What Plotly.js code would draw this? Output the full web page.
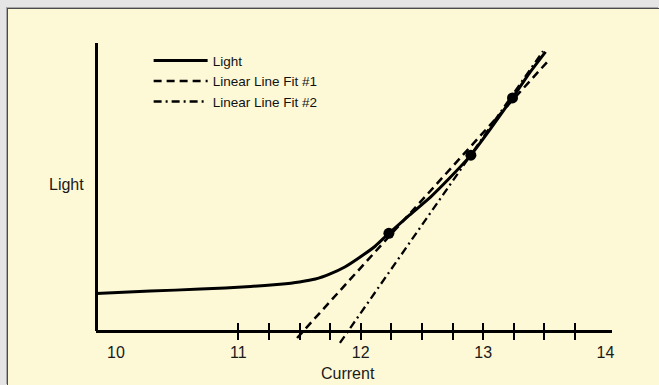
<!DOCTYPE html>
<html><head><meta charset="utf-8">
<script src="https://cdn.plot.ly/plotly-3.0.1.min.js"></script>
<style>
html,body{margin:0;padding:0;background:#e5e5e5;width:659px;height:385px;overflow:hidden;}
#chart{position:absolute;left:7px;top:8px;width:651px;height:376px;border-left:1px solid #4a4a4a;border-top:1px solid #4a4a4a;box-shadow:-1px -1px 0 #a8a8a8;background:#fdf9d7;}
</style></head><body><div id="chart"></div>
<script>
// Light vs Current curve
const currentX = [9.84, 10.28, 10.69, 11.10, 11.34, 11.50, 11.63, 11.75, 11.87, 11.99, 12.12, 12.23, 12.40, 12.57, 12.73, 12.90, 13.06, 13.24, 13.38, 13.51];
const lightY   = [1.29, 1.37, 1.44, 1.53, 1.61, 1.69, 1.79, 1.97, 2.21, 2.54, 2.94, 3.38, 4.02, 4.64, 5.32, 6.10, 7.01, 8.09, 8.96, 9.69];
// measured points
const pointX = [12.23, 12.90, 13.24];
const pointY = [3.38, 6.10, 8.09];
// linear fits
const fit1X = [11.48, 13.53];
const fit1Y = [-0.26, 9.37];
const fit2X = [11.83, 13.49];
const fit2Y = [-0.43, 9.72];
// axis ticks
const tickVals = [10, 11, 12, 13, 14];
const tickText = ['10', '11', '12', '13', '14'];
const quarterTicks = [11, 11.25, 11.5, 11.75, 12, 12.25, 12.5, 12.75, 13, 13.25, 13.5, 13.75];
const names = ['Light', 'Linear Line Fit #1', 'Linear Line Fit #2'];

const xRange = [9.837, 14.053];
const axPos = 0.0635;
const yRange = [-10 * axPos / (1 - axPos), 10];
const font = 'Liberation Sans, Arial, Helvetica, sans-serif';

const traces = [
  {x: currentX, y: lightY, name: names[0], mode: 'lines', line: {color: '#000', width: 3, shape: 'spline', smoothing: 0.5}},
  {x: fit1X, y: fit1Y, name: names[1], mode: 'lines', line: {color: '#000', width: 2.5, dash: '8px,5px'}},
  {x: fit2X, y: fit2Y, name: names[2], mode: 'lines', line: {color: '#000', width: 2.3, dash: '8px,4px,2px,4px'}},
  {x: pointX, y: pointY, mode: 'markers', showlegend: false, marker: {color: '#000', size: 11}},
  {x: [], y: [], xaxis: 'x2', yaxis: 'y', showlegend: false, hoverinfo: 'skip'},
  {x: [], y: [], xaxis: 'x3', yaxis: 'y', showlegend: false, hoverinfo: 'skip'},
  {x: [], y: [], xaxis: 'x', yaxis: 'y2', showlegend: false, hoverinfo: 'skip'}
];

const baseX = {range: xRange, anchor: 'free', position: axPos, showgrid: false, zeroline: false, fixedrange: true};
const layout = {
  width: 651, height: 376,
  margin: {l: 88, r: 47, t: 34, b: 35},
  paper_bgcolor: '#fdf9d7', plot_bgcolor: 'rgba(0,0,0,0)',
  font: {family: font, color: '#1a1a1a'},
  showlegend: true,
  legend: {x: 0.102, y: 0.993, xanchor: 'left', yanchor: 'top', bgcolor: 'rgba(0,0,0,0)', font: {size: 13.5, family: font, color: '#111'}, itemwidth: 54},
  xaxis: Object.assign({}, baseX, {showline: true, linewidth: 3, linecolor: '#000', tickmode: 'array', tickvals: tickVals, ticktext: tickText, ticks: '', ticklabelstandoff: 6, tickfont: {size: 16, family: font, color: '#1a1a1a'}}),
  xaxis2: Object.assign({}, baseX, {overlaying: 'x', showline: false, tickmode: 'array', tickvals: quarterTicks, ticks: 'outside', ticklen: 8, tickwidth: 2, tickcolor: '#000', showticklabels: false}),
  xaxis3: Object.assign({}, baseX, {overlaying: 'x', showline: false, tickmode: 'array', tickvals: quarterTicks, ticks: 'inside', ticklen: 8, tickwidth: 2, tickcolor: '#000', showticklabels: false}),
  yaxis: {range: yRange, domain: [0, 1], visible: false, showgrid: false, zeroline: false, fixedrange: true},
  yaxis2: {range: [0, 10], domain: [axPos, 1], anchor: 'free', position: 0, showline: true, linewidth: 3, linecolor: '#000', ticks: '', showticklabels: false, showgrid: false, zeroline: false, fixedrange: true},
  annotations: [
    {text: 'Current', xref: 'paper', yref: 'paper', x: 0.4884, y: -0.078, xanchor: 'center', yanchor: 'middle', showarrow: false, font: {size: 16, family: font, color: '#1a1a1a'}},
    {text: 'Light', xref: 'paper', yref: 'paper', x: -0.058, y: 0.5375, xanchor: 'center', yanchor: 'middle', showarrow: false, font: {size: 16, family: font, color: '#1a1a1a'}}
  ]
};
Plotly.newPlot('chart', traces, layout, {displayModeBar: false, staticPlot: true});
</script></body></html>
